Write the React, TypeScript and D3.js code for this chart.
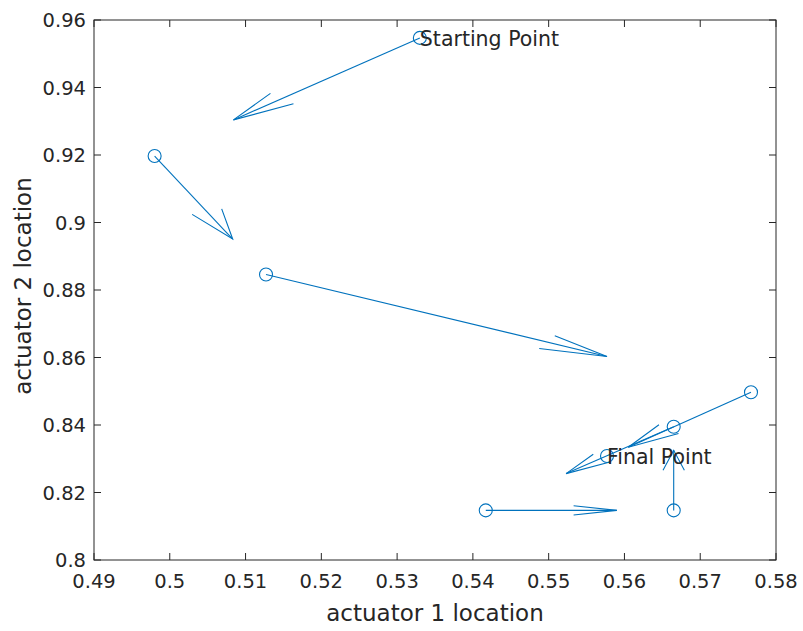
import * as d3 from "d3";
import { useEffect, useRef } from "react";

// actuator positions and the step taken from each
const xs = [0.533, 0.498, 0.5127, 0.5767, 0.5665, 0.5577, 0.5665, 0.5417];
const ys = [0.9547, 0.9197, 0.8846, 0.8497, 0.8395, 0.8308, 0.8147, 0.8147];
const us = [-0.0246, 0.0103, 0.045, -0.0162, -0.0142, 0, 0, 0.0173];
const vs = [-0.0243, -0.0246, -0.0243, -0.0163, -0.0139, 0, 0.0178, 0];

const xTicks = [0.49, 0.5, 0.51, 0.52, 0.53, 0.54, 0.55, 0.56, 0.57, 0.58];
const yTicks = [0.8, 0.82, 0.84, 0.86, 0.88, 0.9, 0.92, 0.94, 0.96];

const labels = [
  { idx: 0, text: "Starting Point" },
  { idx: 5, text: "Final Point" },
];

export default function App() {
  const svgRef = useRef<SVGSVGElement>(null);

  useEffect(() => {
    const width = 803;
    const height = 631;
    const left = 94,
      right = 776,
      top = 20,
      bottom = 560;
    const ink = "#262626";
    const blue = "#0072BD";
    const font = "'DejaVu Sans', sans-serif";

    const svg = d3.select(svgRef.current);
    svg.selectAll("*").remove();
    svg.attr("width", width).attr("height", height);

    const x = d3.scaleLinear().domain([0.49, 0.58]).range([left, right]);
    const y = d3.scaleLinear().domain([0.8, 0.96]).range([bottom, top]);

    svg.append("rect").attr("width", width).attr("height", height).attr("fill", "white");

    //ticks inside, on all four sides like a boxed matlab axes
    const tickLen = 7;
    const g = svg.append("g").attr("stroke", ink).attr("stroke-width", 1);
    xTicks.forEach((t) => {
      g.append("line").attr("x1", x(t)).attr("x2", x(t)).attr("y1", bottom).attr("y2", bottom - tickLen);
      g.append("line").attr("x1", x(t)).attr("x2", x(t)).attr("y1", top).attr("y2", top + tickLen);
    });
    yTicks.forEach((t) => {
      g.append("line").attr("x1", left).attr("x2", left + tickLen).attr("y1", y(t)).attr("y2", y(t));
      g.append("line").attr("x1", right).attr("x2", right - tickLen).attr("y1", y(t)).attr("y2", y(t));
    });
    g.append("rect")
      .attr("x", left)
      .attr("y", top)
      .attr("width", right - left)
      .attr("height", bottom - top)
      .attr("fill", "none");

    svg
      .append("g")
      .selectAll("text")
      .data(xTicks)
      .join("text")
      .attr("x", (d) => x(d))
      .attr("y", bottom + 28)
      .attr("text-anchor", "middle")
      .attr("font-family", font)
      .attr("font-size", 19.5)
      .attr("fill", ink)
      .text((d) => d3.format("")(d));

    svg
      .append("g")
      .selectAll("text")
      .data(yTicks)
      .join("text")
      .attr("x", left - 8)
      .attr("y", (d) => y(d) + 7)
      .attr("text-anchor", "end")
      .attr("font-family", font)
      .attr("font-size", 19.5)
      .attr("fill", ink)
      .text((d) => d3.format("")(d));

    svg
      .append("text")
      .attr("x", (left + right) / 2)
      .attr("y", 621)
      .attr("text-anchor", "middle")
      .attr("font-family", font)
      .attr("font-size", 23)
      .attr("fill", ink)
      .text("actuator 1 location");

    svg
      .append("text")
      .attr("transform", `translate(31,${(top + bottom) / 2 - 4}) rotate(-90)`)
      .attr("text-anchor", "middle")
      .attr("font-family", font)
      .attr("font-size", 23)
      .attr("fill", ink)
      .text("actuator 2 location");

    //quiver arrows, heads worked out in data units and capped in length
    const beta = 0.24;
    const headCap = 0.009;
    const plot = svg.append("g").attr("stroke", blue).attr("fill", "none").attr("stroke-width", 1.1);
    xs.forEach((x0, i) => {
      const u = us[i];
      const v = vs[i];
      if (u === 0 && v === 0) return;
      const ex = x0 + u;
      const ey = ys[i] + v;
      const alpha = Math.min(0.33, headCap / Math.hypot(u, v));
      const b1x = ex - alpha * (u + beta * v);
      const b1y = ey - alpha * (v - beta * u);
      const b2x = ex - alpha * (u - beta * v);
      const b2y = ey - alpha * (v + beta * u);
      plot
        .append("line")
        .attr("x1", x(x0))
        .attr("y1", y(ys[i]))
        .attr("x2", x(ex))
        .attr("y2", y(ey));
      plot
        .append("polyline")
        .attr("points", `${x(b1x)},${y(b1y)} ${x(ex)},${y(ey)} ${x(b2x)},${y(b2y)}`);
    });

    plot
      .selectAll("circle")
      .data(xs)
      .join("circle")
      .attr("cx", (d) => x(d))
      .attr("cy", (d, i) => y(ys[i]))
      .attr("r", 6.5);

    svg
      .append("g")
      .selectAll("text")
      .data(labels)
      .join("text")
      .attr("x", (d) => x(xs[d.idx]))
      .attr("y", (d) => y(ys[d.idx]) + 8)
      .attr("font-family", font)
      .attr("font-size", 20.5)
      .attr("fill", ink)
      .text((d) => d.text);
  }, []);

  return <svg ref={svgRef} style={{ position: "absolute", left: 0, top: 0 }}></svg>;
}
